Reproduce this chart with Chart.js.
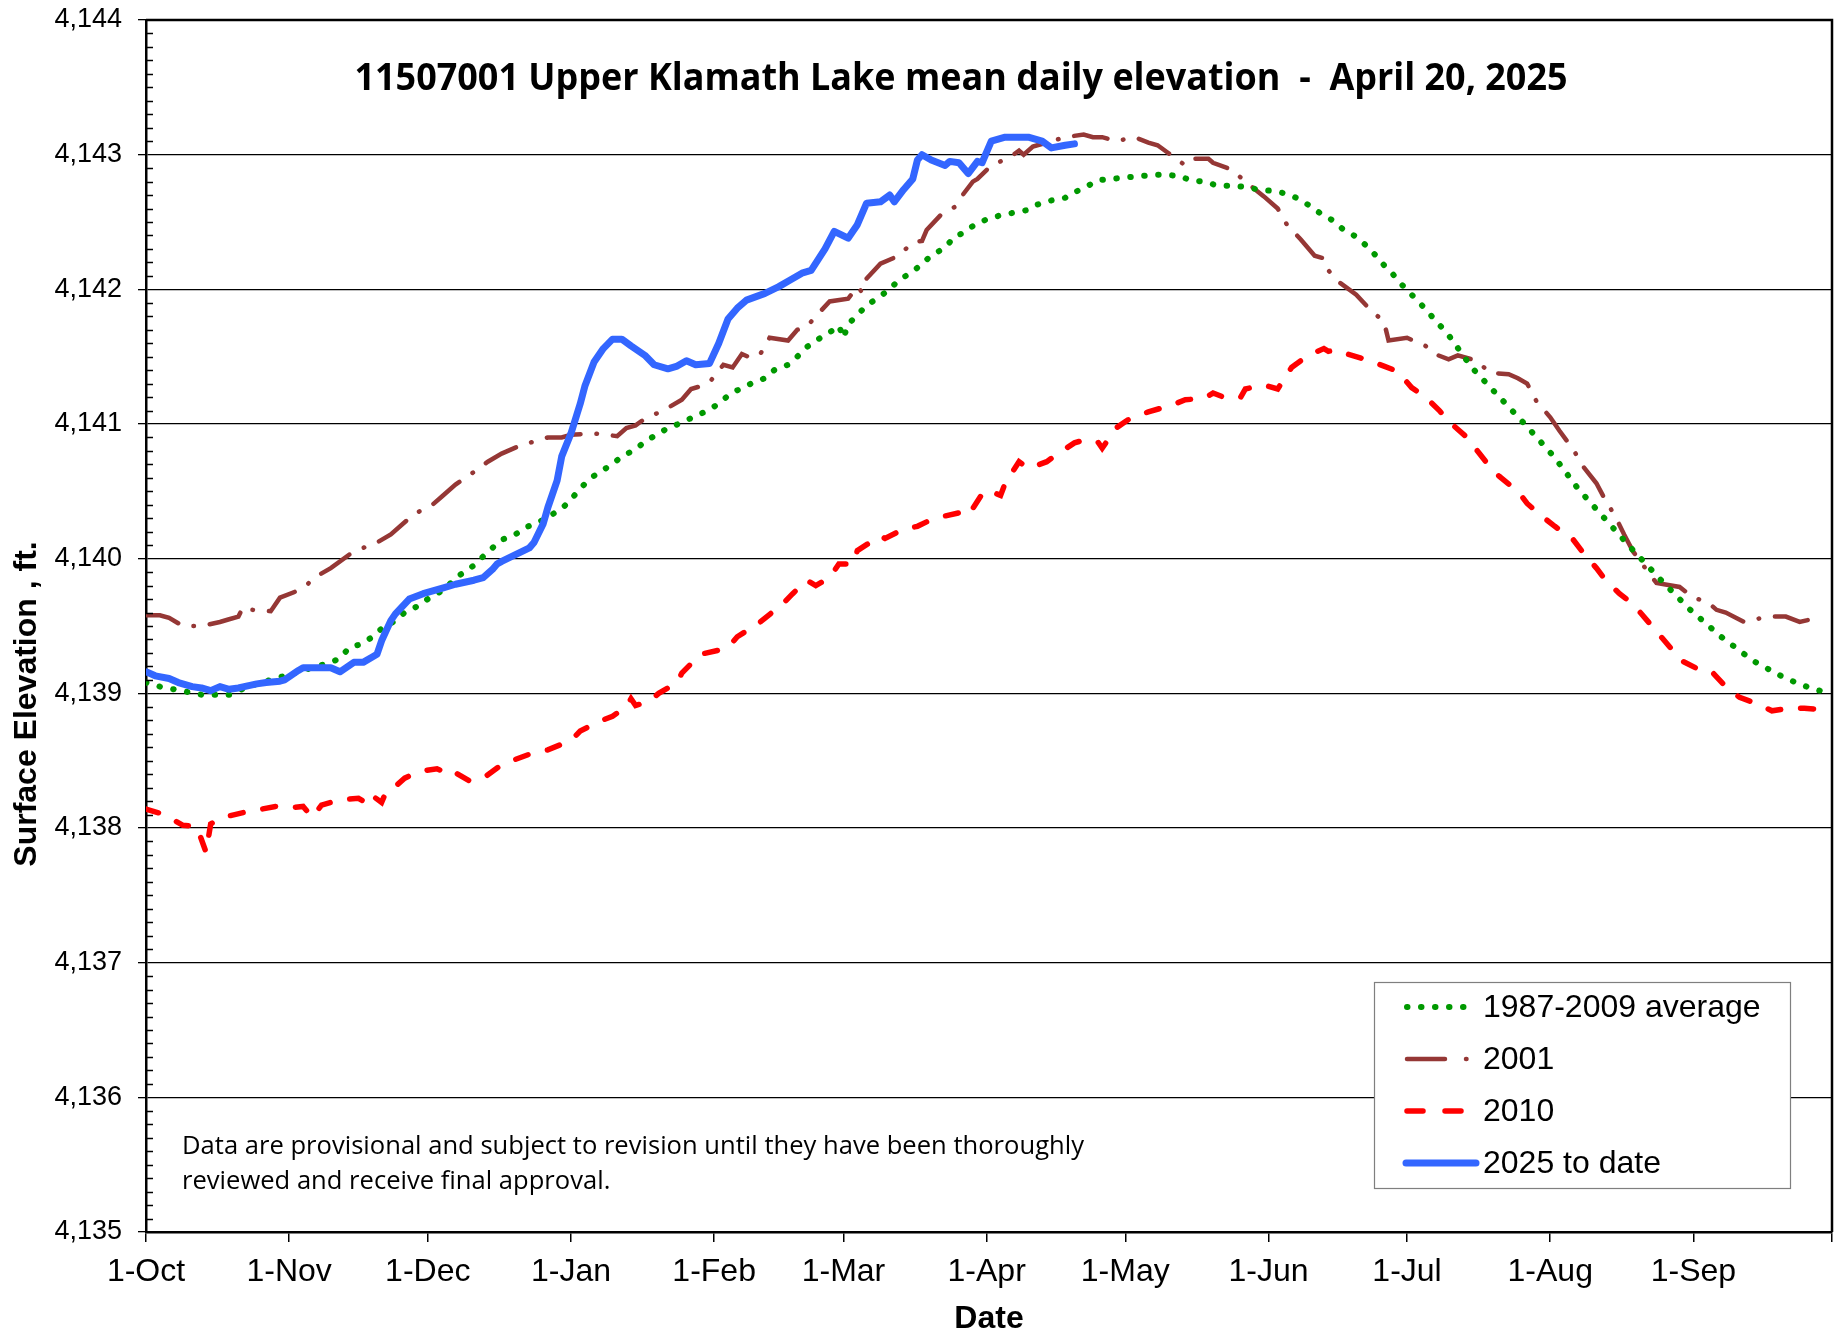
<!DOCTYPE html>
<html>
<head>
<meta charset="utf-8">
<title>Upper Klamath Lake mean daily elevation</title>
<script src="https://cdn.jsdelivr.net/npm/chart.js@4.4.1/dist/chart.umd.min.js"></script>
<style>
  html, body { margin: 0; padding: 0; background: #fff; }
  #chart { display: block; }
</style>
</head>
<body>
<canvas id="chart" width="1837" height="1335"></canvas>
<script>
// x = day of the water year (0 = 1-Oct), y = lake elevation in ft
const avgDays = [0, 3, 6, 9, 12, 15, 18, 20, 23, 26, 29, 33, 37, 40, 42, 44, 47, 49, 51, 54, 56, 59, 61, 64, 66, 68, 71, 74, 77, 80, 82, 85, 87, 90, 92, 94, 96, 98, 101, 103, 106, 108, 111, 113, 116, 119, 121, 124, 126, 128, 131, 134, 136, 139, 141, 143, 146, 148, 150, 151, 152, 154, 156, 159, 161, 163, 166, 168, 170, 173, 175, 177, 179, 182, 185, 188, 191, 193, 196, 199, 201, 204, 206, 209, 212, 215, 218, 221, 224, 226, 229, 232, 235, 238, 241, 244, 247, 249, 252, 254, 257, 259, 262, 264, 266, 268, 270, 272, 276, 282, 287, 293, 299, 305, 310, 316, 322, 328, 334, 341, 348, 355, 361, 365];
const avgElev = [4139.08, 4139.05, 4139.03, 4139.01, 4138.99, 4138.99, 4138.99, 4139.02, 4139.06, 4139.09, 4139.12, 4139.16, 4139.20, 4139.23, 4139.26, 4139.34, 4139.37, 4139.42, 4139.48, 4139.54, 4139.60, 4139.65, 4139.70, 4139.76, 4139.82, 4139.88, 4139.95, 4140.05, 4140.14, 4140.18, 4140.23, 4140.27, 4140.31, 4140.37, 4140.44, 4140.52, 4140.59, 4140.64, 4140.70, 4140.76, 4140.81, 4140.87, 4140.93, 4140.97, 4141.01, 4141.06, 4141.09, 4141.15, 4141.21, 4141.25, 4141.30, 4141.34, 4141.40, 4141.44, 4141.50, 4141.57, 4141.64, 4141.68, 4141.73, 4141.64, 4141.74, 4141.81, 4141.88, 4141.95, 4142.00, 4142.07, 4142.13, 4142.19, 4142.25, 4142.31, 4142.39, 4142.42, 4142.47, 4142.52, 4142.55, 4142.57, 4142.59, 4142.63, 4142.66, 4142.68, 4142.72, 4142.77, 4142.81, 4142.82, 4142.83, 4142.84, 4142.85, 4142.85, 4142.84, 4142.81, 4142.80, 4142.77, 4142.77, 4142.76, 4142.74, 4142.73, 4142.71, 4142.68, 4142.62, 4142.57, 4142.51, 4142.45, 4142.39, 4142.33, 4142.26, 4142.18, 4142.11, 4142.03, 4141.89, 4141.66, 4141.42, 4141.20, 4140.98, 4140.75, 4140.52, 4140.29, 4140.06, 4139.84, 4139.63, 4139.42, 4139.24, 4139.11, 4139.03, 4139.00];

const y2001Days = [0, 3, 5, 8, 12, 16, 18, 20, 21, 23, 27, 29, 32, 35, 36, 40, 44, 47, 50, 53, 57, 60, 62, 64, 67, 70, 72, 74, 77, 81, 85, 87, 90, 92, 97, 102, 104, 106, 108, 112, 116, 118, 120, 122, 125, 127, 129, 131, 133, 135, 139, 141, 143, 145, 148, 152, 154, 155, 156, 159, 163, 166, 168, 169, 172, 175, 177, 179, 180, 183, 187, 189, 190, 192, 199, 203, 205, 207, 210, 214, 217, 219, 221, 225, 227, 230, 231, 235, 238, 242, 245, 247, 250, 253, 255, 256, 258, 262, 265, 268, 269, 273, 277, 279, 282, 284, 288, 291, 295, 297, 299, 301, 304, 306, 309, 311, 314, 316, 318, 320, 322, 325, 327, 332, 335, 338, 340, 342, 346, 351, 355, 358, 363];
const y2001Elev = [4139.58, 4139.58, 4139.56, 4139.50, 4139.50, 4139.53, 4139.55, 4139.57, 4139.64, 4139.62, 4139.61, 4139.71, 4139.75, 4139.81, 4139.85, 4139.93, 4140.03, 4140.08, 4140.12, 4140.18, 4140.30, 4140.37, 4140.40, 4140.46, 4140.55, 4140.62, 4140.67, 4140.72, 4140.78, 4140.84, 4140.88, 4140.90, 4140.90, 4140.92, 4140.93, 4140.91, 4140.97, 4140.99, 4141.04, 4141.10, 4141.18, 4141.26, 4141.28, 4141.31, 4141.44, 4141.42, 4141.52, 4141.49, 4141.52, 4141.64, 4141.62, 4141.70, 4141.72, 4141.80, 4141.91, 4141.93, 4142.02, 4141.98, 4142.08, 4142.19, 4142.25, 4142.35, 4142.36, 4142.44, 4142.55, 4142.61, 4142.71, 4142.80, 4142.82, 4142.92, 4142.98, 4143.03, 4143.00, 4143.06, 4143.13, 4143.15, 4143.13, 4143.13, 4143.10, 4143.13, 4143.09, 4143.07, 4143.02, 4142.92, 4142.97, 4142.97, 4142.94, 4142.89, 4142.80, 4142.69, 4142.60, 4142.48, 4142.37, 4142.25, 4142.23, 4142.14, 4142.06, 4141.96, 4141.85, 4141.76, 4141.62, 4141.64, 4141.58, 4141.52, 4141.48, 4141.51, 4141.47, 4141.38, 4141.37, 4141.34, 4141.30, 4141.17, 4141.05, 4140.95, 4140.81, 4140.69, 4140.56, 4140.43, 4140.32, 4140.18, 4140.05, 4139.91, 4139.82, 4139.79, 4139.71, 4139.68, 4139.62, 4139.60, 4139.53, 4139.57, 4139.57, 4139.53, 4139.57];

const y2010Days = [0, 3, 6, 8, 11, 13, 14, 16, 18, 23, 25, 28, 31, 34, 36, 38, 42, 46, 48, 49, 51, 52, 54, 56, 59, 63, 65, 66, 70, 73, 77, 80, 84, 87, 92, 94, 98, 101, 104, 105, 106, 109, 111, 115, 116, 118, 120, 124, 126, 128, 133, 138, 140, 143, 145, 148, 150, 153, 154, 159, 160, 164, 167, 170, 172, 176, 178, 181, 182, 185, 186, 189, 191, 195, 197, 201, 203, 206, 207, 210, 213, 217, 222, 225, 229, 231, 234, 237, 238, 242, 245, 248, 250, 253, 255, 256, 258, 260, 264, 268, 271, 274, 277, 280, 282, 286, 288, 291, 293, 297, 299, 302, 305, 309, 311, 314, 316, 319, 322, 325, 327, 330, 332, 336, 339, 342, 345, 349, 352, 356, 359, 365];
const y2010Elev = [4138.14, 4138.11, 4138.06, 4138.02, 4138.01, 4137.82, 4138.03, 4138.07, 4138.09, 4138.13, 4138.14, 4138.16, 4138.15, 4138.16, 4138.08, 4138.17, 4138.21, 4138.22, 4138.18, 4138.24, 4138.19, 4138.27, 4138.31, 4138.37, 4138.42, 4138.44, 4138.41, 4138.43, 4138.35, 4138.37, 4138.47, 4138.51, 4138.56, 4138.58, 4138.65, 4138.72, 4138.79, 4138.83, 4138.90, 4138.96, 4138.91, 4138.94, 4139.00, 4139.08, 4139.15, 4139.22, 4139.29, 4139.32, 4139.34, 4139.42, 4139.53, 4139.67, 4139.74, 4139.84, 4139.80, 4139.86, 4139.96, 4139.96, 4140.06, 4140.17, 4140.15, 4140.22, 4140.24, 4140.29, 4140.31, 4140.34, 4140.32, 4140.48, 4140.51, 4140.47, 4140.56, 4140.72, 4140.67, 4140.72, 4140.77, 4140.86, 4140.88, 4140.87, 4140.82, 4140.97, 4141.04, 4141.09, 4141.14, 4141.18, 4141.19, 4141.23, 4141.19, 4141.20, 4141.26, 4141.29, 4141.26, 4141.42, 4141.47, 4141.53, 4141.56, 4141.54, 4141.55, 4141.52, 4141.48, 4141.43, 4141.39, 4141.27, 4141.20, 4141.10, 4141.02, 4140.90, 4140.81, 4140.68, 4140.61, 4140.50, 4140.41, 4140.32, 4140.24, 4140.14, 4140.05, 4139.93, 4139.84, 4139.74, 4139.66, 4139.54, 4139.46, 4139.34, 4139.25, 4139.18, 4139.16, 4139.05, 4138.97, 4138.92, 4138.87, 4138.89, 4138.89, 4138.87];

const y2025Days = [0, 2, 5, 7, 10, 12, 14, 16, 18, 20, 24, 26, 29, 30, 33, 34, 40, 42, 45, 47, 49, 50, 51, 53, 54, 57, 60, 64, 67, 71, 73, 75, 76, 77, 80, 83, 84, 86, 87, 89, 90, 92, 94, 95, 97, 99, 101, 103, 105, 108, 110, 113, 115, 117, 119, 122, 124, 126, 128, 130, 134, 137, 139, 142, 144, 147, 149, 152, 154, 156, 159, 161, 162, 164, 166, 167, 168, 170, 173, 174, 176, 178, 180, 181, 183, 186, 191, 194, 196, 199, 201];
const y2025Elev = [4139.16, 4139.13, 4139.11, 4139.08, 4139.05, 4139.04, 4139.02, 4139.05, 4139.03, 4139.04, 4139.07, 4139.08, 4139.09, 4139.10, 4139.17, 4139.19, 4139.19, 4139.16, 4139.23, 4139.23, 4139.27, 4139.29, 4139.39, 4139.54, 4139.59, 4139.70, 4139.74, 4139.78, 4139.81, 4139.84, 4139.86, 4139.92, 4139.96, 4139.98, 4140.03, 4140.08, 4140.12, 4140.26, 4140.38, 4140.58, 4140.76, 4140.93, 4141.15, 4141.28, 4141.46, 4141.56, 4141.63, 4141.63, 4141.58, 4141.51, 4141.44, 4141.41, 4141.43, 4141.47, 4141.44, 4141.45, 4141.60, 4141.78, 4141.86, 4141.92, 4141.97, 4142.02, 4142.06, 4142.12, 4142.14, 4142.30, 4142.43, 4142.38, 4142.48, 4142.64, 4142.65, 4142.70, 4142.65, 4142.74, 4142.82, 4142.96, 4143.00, 4142.96, 4142.92, 4142.95, 4142.94, 4142.86, 4142.95, 4142.94, 4143.10, 4143.13, 4143.13, 4143.10, 4143.05, 4143.07, 4143.08];

const monthDays = [0, 31, 61, 92, 123, 151, 182, 212, 243, 273, 304, 335, 365];
const monthLabels = ["1-Oct", "1-Nov", "1-Dec", "1-Jan", "1-Feb", "1-Mar", "1-Apr", "1-May", "1-Jun", "1-Jul", "1-Aug", "1-Sep", ""];
const elevTicks = [4135, 4136, 4137, 4138, 4139, 4140, 4141, 4142, 4143, 4144];

const chartTitle = "11507001 Upper Klamath Lake mean daily elevation  -  April 20, 2025";
const noteLines = ["Data are provisional and subject to revision until they have been thoroughly", "reviewed and receive final approval."];

const ARIAL = "'Liberation Sans', Arial, sans-serif";
const CALIBRI = "'Open Sans', 'Noto Sans', sans-serif";

function toPoints(days, elev) {
  return days.map((d, i) => ({ x: d, y: elev[i] }));
}

// draw text squeezed/stretched to a given width (Calibri is not installed)
function fitText(ctx, text, x, y, width, font, align) {
  ctx.save();
  ctx.font = font;
  const sx = width / ctx.measureText(text).width;
  ctx.translate(x, y);
  ctx.scale(sx, 1);
  ctx.textAlign = align;
  ctx.textBaseline = "alphabetic";
  ctx.fillText(text, 0, 0);
  ctx.restore();
  return sx;
}

const decorPlugin = {
  id: "decor",
  afterDraw(chart) {
    const { ctx, chartArea: a, scales: { y } } = chart;
    ctx.save();
    ctx.fillStyle = "#000";
    ctx.strokeStyle = "#000";

    // minor ticks every 0.1 ft, inside the axis
    ctx.lineWidth = 1.5;
    ctx.beginPath();
    for (let i = 1; i < 90; i++) {
      if (i % 10 === 0) continue;
      const py = Math.round(y.getPixelForValue(4135 + i / 10)) + 0.5;
      ctx.moveTo(a.left, py);
      ctx.lineTo(a.left + 7, py);
    }
    ctx.stroke();

    // top and right frame
    ctx.lineWidth = 2.5;
    ctx.beginPath();
    ctx.moveTo(a.left, a.top);
    ctx.lineTo(a.right, a.top);
    ctx.lineTo(a.right, a.bottom);
    ctx.stroke();

    // title
    fitText(ctx, chartTitle, 961, 90, 1213, "bold 38px " + CALIBRI, "center");

    // provisional note
    ctx.font = "26px " + CALIBRI;
    const sx = 902 / ctx.measureText(noteLines[0]).width;
    noteLines.forEach((line, i) => {
      ctx.save();
      ctx.font = "26px " + CALIBRI;
      ctx.translate(182, 1154 + i * 35);
      ctx.scale(sx, 1);
      ctx.textAlign = "left";
      ctx.fillText(line, 0, 0);
      ctx.restore();
    });

    // y axis title
    ctx.save();
    ctx.translate(27, 704);
    ctx.rotate(-Math.PI / 2);
    ctx.font = "bold 32px " + ARIAL;
    ctx.textAlign = "center";
    ctx.textBaseline = "middle";
    ctx.fillText("Surface Elevation , ft.", 0, 0);
    ctx.restore();

    // legend
    ctx.fillStyle = "#fff";
    ctx.fillRect(1374, 982, 416, 206);
    ctx.strokeStyle = "#7f7f7f";
    ctx.lineWidth = 1.2;
    ctx.strokeRect(1374.5, 982.5, 416, 206);
    chart.data.datasets.forEach((ds, i) => {
      const ly = 1007 + i * 52;
      ctx.save();
      ctx.strokeStyle = ds.borderColor;
      ctx.lineWidth = ds.borderWidth;
      ctx.lineCap = ds.borderCapStyle || "butt";
      ctx.setLineDash(ds.legendDash || ds.borderDash || []);
      ctx.beginPath();
      ctx.moveTo(ds.borderDash ? 1407 : 1406, ly);
      ctx.lineTo(1476, ly);
      ctx.stroke();
      ctx.restore();
      ctx.fillStyle = "#000";
      ctx.font = "32px " + ARIAL;
      ctx.textAlign = "left";
      ctx.textBaseline = "middle";
      ctx.fillText(ds.label, 1483, ly + 1);
    });
    ctx.restore();
  }
};

new Chart(document.getElementById("chart"), {
  type: "line",
  data: {
    datasets: [
      {
        label: "1987-2009 average",
        data: toPoints(avgDays, avgElev),
        borderColor: "#009900",
        borderWidth: 6,
        borderDash: [0.5, 13.5],
        legendDash: [0.5, 13.5],
        borderCapStyle: "round",
        order: 1
      },
      {
        label: "2001",
        data: toPoints(y2001Days, y2001Elev),
        borderColor: "#953735",
        borderWidth: 4.5,
        borderDash: [34, 16, 0.5, 16],
        legendDash: [38, 21, 0.5, 40],
        borderCapStyle: "round",
        order: 2
      },
      {
        label: "2010",
        data: toPoints(y2010Days, y2010Elev),
        borderColor: "#ff0000",
        borderWidth: 5.5,
        borderDash: [13, 20],
        legendDash: [16, 22],
        borderCapStyle: "round",
        order: 3
      },
      {
        label: "2025 to date",
        data: toPoints(y2025Days, y2025Elev),
        borderColor: "#3366ff",
        borderWidth: 7,
        borderCapStyle: "round",
        borderJoinStyle: "round",
        order: 0
      }
    ]
  },
  options: {
    responsive: false,
    animation: false,
    devicePixelRatio: 1,
    elements: {
      point: { radius: 0 },
      line: { tension: 0, fill: false }
    },
    layout: { padding: { top: 20, right: 5, left: 0, bottom: 0 } },
    plugins: {
      legend: { display: false },
      tooltip: { enabled: false },
      title: { display: false }
    },
    scales: {
      x: {
        type: "linear",
        min: 0,
        max: 365,
        afterBuildTicks: s => { s.ticks = monthDays.map(v => ({ value: v })); },
        afterFit: s => {
          s.height = 103;
          s.paddingLeft = 0;
          s.paddingRight = 0;
        },
        ticks: {
          callback: (v, i) => monthLabels[i],
          autoSkip: false,
          maxRotation: 0,
          padding: 11,
          color: "#000",
          font: { family: ARIAL, size: 32 }
        },
        grid: { drawOnChartArea: false, drawTicks: true, tickLength: 10, color: "#000", lineWidth: 1.5 },
        border: { color: "#000", width: 2.5 },
        title: {
          display: true,
          text: "Date",
          color: "#000",
          padding: { top: 0, bottom: 0 },
          font: { family: ARIAL, size: 32, weight: "bold", lineHeight: 1 }
        }
      },
      y: {
        type: "linear",
        min: 4135,
        max: 4144,
        afterBuildTicks: s => { s.ticks = elevTicks.map(v => ({ value: v })); },
        afterFit: s => {
          s.width = 146;
          s.paddingTop = 0;
          s.paddingBottom = 0;
        },
        ticks: {
          callback: v => v.toLocaleString("en-US"),
          padding: 16,
          color: "#000",
          font: { family: ARIAL, size: 27 }
        },
        grid: { color: "#000", lineWidth: 1.3, tickLength: 8 },
        border: { color: "#000", width: 2.5 }
      }
    }
  },
  plugins: [decorPlugin]
});
</script>
</body>
</html>
